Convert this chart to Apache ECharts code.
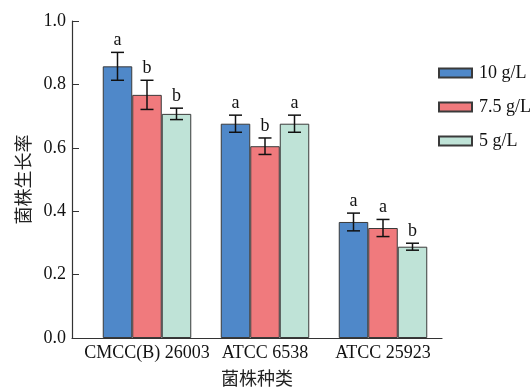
<!DOCTYPE html>
<html><head><meta charset="utf-8">
<script src="https://cdn.jsdelivr.net/npm/echarts@6/dist/echarts.min.js"></script>
<style>html,body{margin:0;padding:0;background:#fff}#c{width:530px;height:388px}</style>
</head><body><div id="c"></div>
<script>
const categories = ['CMCC(B) 26003', 'ATCC 6538', 'ATCC 25923'];
const seriesNames = ['10 g/L', '7.5 g/L', '5 g/L'];
const mean10 = [0.857, 0.676, 0.366];
const err10 = [0.044, 0.027, 0.028];
const mean75 = [0.767, 0.605, 0.347];
const err75 = [0.046, 0.026, 0.027];
const mean5 = [0.707, 0.676, 0.288];
const err5 = [0.018, 0.027, 0.011];
const letters10 = ['a', 'a', 'a'];
const letters75 = ['b', 'b', 'a'];
const letters5 = ['b', 'a', 'b'];
const yTicks = [0, 0.2, 0.4, 0.6, 0.8, 1.0];

const colors = ['#4f88c9', '#f07a7d', '#bfe3d7'];
const BAR_W = 29.5;
const FONT = 'Liberation Serif, Times New Roman, serif';
const means = [mean10, mean75, mean5];
const errs = [err10, err75, err5];
const letters = [letters10, letters75, letters5];

const chart = echarts.init(document.getElementById('c'));

const barSeries = seriesNames.map((name, k) => ({
  name: name,
  type: 'bar',
  xAxisIndex: 1, yAxisIndex: 1,
  barWidth: BAR_W,
  barGap: '0%',
  data: means[k],
  itemStyle: { color: colors[k], borderColor: '#3a3a3a', borderWidth: 1 },
  z: 2
}));

const errSeries = seriesNames.map((name, k) => ({
  type: 'custom',
  xAxisIndex: 1, yAxisIndex: 1,
  z: 5,
  silent: true,
  data: means[k].map((m, i) => [i, m - errs[k][i], m + errs[k][i], letters[k][i]]),
  renderItem: function (params, api) {
    const i = api.value(0);
    const lo = api.coord([i, api.value(1)]);
    const hi = api.coord([i, api.value(2)]);
    const x = lo[0] + (k - 1) * BAR_W;
    const cap = 6.5;
    const st = { stroke: '#111', lineWidth: 1.5 };
    return {
      type: 'group',
      children: [
        { type: 'line', shape: { x1: x, y1: lo[1], x2: x, y2: hi[1] }, style: st },
        { type: 'line', shape: { x1: x - cap, y1: lo[1], x2: x + cap, y2: lo[1] }, style: st },
        { type: 'line', shape: { x1: x - cap, y1: hi[1], x2: x + cap, y2: hi[1] }, style: st },
        { type: 'text', x: x, y: hi[1] - 3,
          style: { text: letters[k][params.dataIndex], fill: '#111', font: '18px ' + FONT,
                   textAlign: 'center', textVerticalAlign: 'bottom' } }
      ]
    };
  }
}));

chart.setOption({
  animation: false,
  backgroundColor: '#fff',
  grid: [
    { left: 72, right: 88, top: 21, bottom: 50, outerBoundsMode: 'none', containLabel: false },
    { left: 88, right: 88, top: 21, bottom: 50, outerBoundsMode: 'none', containLabel: false }
  ],
  legend: {
    data: seriesNames,
    orient: 'vertical',
    left: 438, top: 64,
    padding: 0,
    itemWidth: 33, itemHeight: 9, itemGap: 16,
    icon: 'rect',
    textStyle: { fontFamily: FONT, fontSize: 18, color: '#111', padding: [0, 0, 0, 2] }
  },
  xAxis: [
    { type: 'value', gridIndex: 0, min: 0, max: 1,
      axisLine: { show: true, lineStyle: { color: '#333', width: 1.2 } },
      axisTick: { show: false }, axisLabel: { show: false }, splitLine: { show: false },
      name: '菌株种类', nameLocation: 'middle', nameGap: 31,
      nameTextStyle: { fontFamily: 'Noto Sans CJK SC', fontSize: 18, color: '#222' } },
    { type: 'category', gridIndex: 1, data: categories,
      axisLine: { show: false },
      axisTick: { show: true, inside: true, alignWithLabel: true, length: 4, lineStyle: { color: '#333' } },
      axisLabel: { fontFamily: FONT, fontSize: 18, color: '#111', margin: 6, interval: 0 } }
  ],
  yAxis: [
    { type: 'value', gridIndex: 0, min: yTicks[0], max: yTicks[yTicks.length - 1], interval: 0.2,
      axisLine: { show: true, lineStyle: { color: '#333', width: 1.2 } },
      axisTick: { show: true, inside: true, length: 7, lineStyle: { color: '#333' } },
      axisLabel: { fontFamily: FONT, fontSize: 18, color: '#111', margin: 6,
                   formatter: v => v.toFixed(1) },
      splitLine: { show: false },
      name: '菌株生长率', nameLocation: 'middle', nameGap: 39,
      nameTextStyle: { fontFamily: 'Noto Sans CJK SC', fontSize: 18, color: '#222' } },
    { type: 'value', gridIndex: 1, min: 0, max: 1, show: false, splitLine: { show: false } }
  ],
  series: barSeries.concat(errSeries)
});
</script></body></html>
